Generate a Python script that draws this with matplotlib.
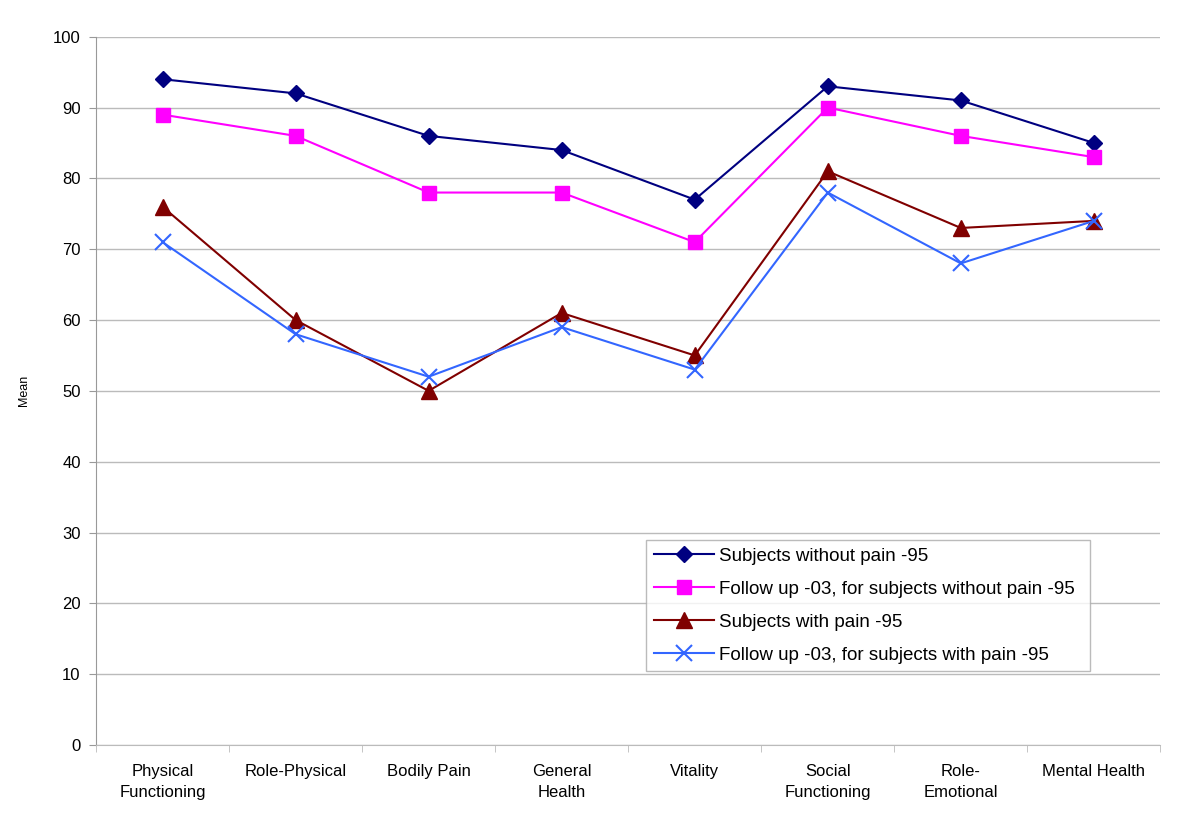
import matplotlib.pyplot as plt
import numpy as np

plt.rcParams['font.family'] = ['Liberation Sans', 'DejaVu Sans']

categories = ['Physical\nFunctioning', 'Role-Physical', 'Bodily Pain', 'General\nHealth',
              'Vitality', 'Social\nFunctioning', 'Role-\nEmotional', 'Mental Health']
without_pain_95 = [94, 92, 86, 84, 77, 93, 91, 85]
followup_without_pain = [89, 86, 78, 78, 71, 90, 86, 83]
with_pain_95 = [76, 60, 50, 61, 55, 81, 73, 74]
followup_with_pain = [71, 58, 52, 59, 53, 78, 68, 74]

fig = plt.figure(figsize=(12, 8.16), dpi=100)
ax = fig.add_axes([0.08, 0.087, 0.887, 0.868])

x = np.arange(len(categories))
ax.plot(x, without_pain_95, color='#000080', marker='D', markersize=8, lw=1.5,
        label='Subjects without pain -95')
ax.plot(x, followup_without_pain, color='#FF00FF', marker='s', markersize=10, lw=1.5,
        label='Follow up -03, for subjects without pain -95')
ax.plot(x, with_pain_95, color='#800000', marker='^', markersize=11, lw=1.5,
        label='Subjects with pain -95')
ax.plot(x, followup_with_pain, color='#3366FF', marker='x', markersize=11, mew=1.5, lw=1.5,
        label='Follow up -03, for subjects with pain -95')

ax.set_xlim(-0.5, len(categories) - 0.5)
ax.set_ylim(0, 100)
ax.set_yticks(range(0, 101, 10))
ax.tick_params(axis='y', labelsize=12, length=5, color='#999999', pad=6)
ax.set_xticks(x)
ax.set_xticklabels(categories, fontsize=12, linespacing=1.5)
ax.tick_params(axis='x', length=0, pad=14)
ax.set_xticks(np.arange(-0.5, len(categories), 1), minor=True)
ax.tick_params(axis='x', which='minor', length=5, color='#bbbbbb')
ax.yaxis.grid(True, color='#bbbbbb', lw=1)
ax.set_axisbelow(True)
for s in ['top', 'right']:
    ax.spines[s].set_visible(False)
ax.spines['left'].set_color('#999999')
ax.spines['bottom'].set_color('#bbbbbb')
ax.set_ylabel('Mean', fontsize=9)
ax.yaxis.set_label_coords(-0.062, 0.5)

leg = ax.legend(loc='lower left', bbox_to_anchor=(0.517, 0.104, 0.417, 0.196), mode='expand',
                fontsize=13.5, frameon=True, fancybox=False, edgecolor='#aaaaaa',
                labelspacing=0.85, handlelength=3.2, handletextpad=0.3, borderaxespad=0)
leg.get_frame().set_linewidth(1)

fig.savefig('out.png', dpi=100)
